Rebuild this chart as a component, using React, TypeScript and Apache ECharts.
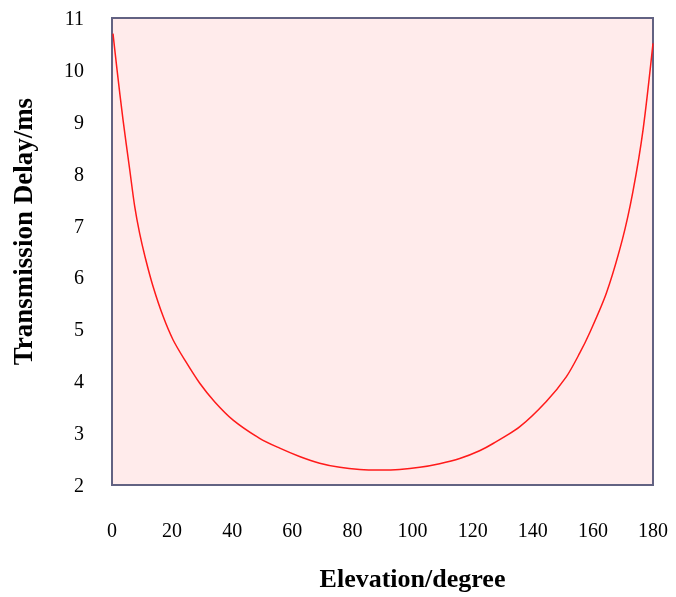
import React, { useEffect, useRef } from "react";
import * as echarts from "echarts";

const elevation = [
  0.33, 1.66, 3.66, 5.89, 7.55, 9.2, 11.2, 13.64, 17.0, 20.3, 24.2, 29.2, 34.2, 40.3, 49.1, 55.8,
  62.4, 69.1, 75.8, 82.4, 89.1, 95.7, 102.4, 109.0, 115.7, 122.3, 126.8, 135.6, 144.5, 151.2,
  155.6, 158.9, 164.5, 169.8, 173.3, 176.7, 180,
];
const delay = [
  10.7, 10.01, 9.04, 8.08, 7.37, 6.85, 6.35, 5.83, 5.25, 4.8, 4.41, 3.96, 3.6, 3.25, 2.9, 2.71,
  2.55, 2.42, 2.34, 2.3, 2.29, 2.3, 2.34, 2.41, 2.51, 2.66, 2.8, 3.12, 3.61, 4.09,
  4.54, 4.93, 5.7, 6.73, 7.65, 8.85, 10.51,
];
const xTicks = [0, 20, 40, 60, 80, 100, 120, 140, 160, 180];
const yTicks = [2, 3, 4, 5, 6, 7, 8, 9, 10, 11];

export default function App() {
  const ref = useRef<HTMLDivElement>(null);
  useEffect(() => {
    if (!ref.current) return;
    const chart = echarts.init(ref.current, null, { renderer: "svg" });
    const font = "'Liberation Serif', 'Times New Roman', serif";
    chart.setOption({
      animation: false,
      grid: {
        left: 112,
        right: 23,
        top: 18,
        bottom: 112,
        outerBoundsMode: "none",
        containLabel: false,
        show: true,
        backgroundColor: "#FFEBEB",
        borderColor: "#626282",
        borderWidth: 2,
      },
      xAxis: {
        type: "value",
        min: xTicks[0],
        max: xTicks[xTicks.length - 1],
        interval: 20,
        name: "Elevation/degree",
        nameLocation: "middle",
        nameGap: 80,
        nameTextStyle: { fontFamily: font, fontSize: 26, fontWeight: "bold", color: "#000", padding: [0, 0, 0, 60] },
        axisLine: { show: false },
        axisTick: { show: false },
        splitLine: { show: false },
        axisLabel: { fontFamily: font, fontSize: 20, color: "#000", margin: 35 },
      },
      yAxis: {
        type: "value",
        min: yTicks[0],
        max: yTicks[yTicks.length - 1],
        interval: 1,
        name: "Transmission Delay/ms",
        nameLocation: "middle",
        nameGap: 76,
        nameTextStyle: { fontFamily: font, fontSize: 27, fontWeight: "bold", color: "#000", padding: [0, 0, 0, 40] },
        axisLine: { show: false },
        axisTick: { show: false },
        splitLine: { show: false },
        axisLabel: { fontFamily: font, fontSize: 20, color: "#000", margin: 28 },
      },
      series: [
        {
          type: "line",
          data: elevation.map((x, i) => [x, delay[i]]),
          smooth: 0.3,
          showSymbol: false,
          lineStyle: { color: "#FF1A1A", width: 1.5 },
        },
      ],
    });
    return () => chart.dispose();
  }, []);
  return <div ref={ref} style={{ position: "fixed", left: 0, top: 0, width: 676, height: 597 }} />;
}
